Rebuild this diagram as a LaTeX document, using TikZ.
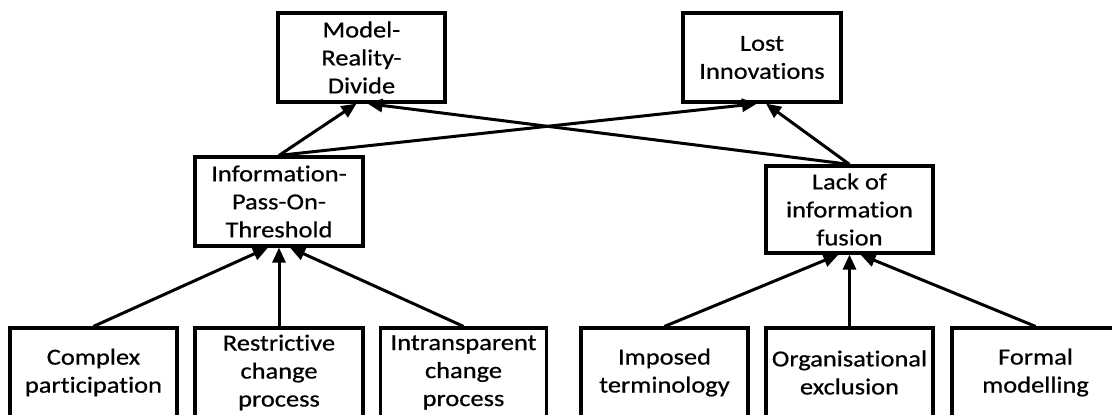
\documentclass[tikz,border=0pt]{standalone}
\usepackage{fontspec}
\setmainfont{Carlito}[FakeStretch=1.15, FakeBold=0.6, Ligatures=NoCommon]
\usetikzlibrary{arrows.meta,calc}
\tikzset{
  box/.style={draw=black, line width=3.2pt, rectangle, inner sep=0pt,
    minimum height=89pt, align=center, text=black,
    font=\fontsize{23}{28}\selectfont},
  conn/.style={line width=3pt, -{Triangle[length=15pt,width=13pt]}}
}
\begin{document}
\begin{tikzpicture}[x=1pt,y=-1pt]
\clip (0,0) rectangle (1112,415);
\useasboundingbox (0,0) rectangle (1112,415);
% top row
\node[box, minimum width=167pt] (mrd) at (361.5,57.5) {Model-\\Reality-\\Divide};
\node[box, minimum width=158pt] (li) at (762,57.5) {Lost\\Innovations};
% middle row
\node[box, minimum width=168pt] (ipot) at (279,201.5) {Information-\\Pass-On-\\Threshold};
\node[box, minimum width=167pt, minimum height=87pt] (lif) at (849.5,209.5) {Lack of\\information\\fusion};
% bottom row
\node[box, minimum width=167pt] (cp) at (93.5,372.5) {Complex\\participation};
\node[box, minimum width=168pt] (rcp) at (279,372.5) {Restrictive\\change\\process};
\node[box, minimum width=166pt] (icp) at (463.5,372.5) {Intransparent\\change\\process};
\node[box, minimum width=167pt] (it) at (664.5,372.5) {Imposed\\terminology};
\node[box, minimum width=167pt] (oe) at (849.5,372.5) {Organisational\\exclusion};
\node[box, minimum width=167pt] (fm) at (1035.5,372.5) {Formal\\modelling};
% connectors to top row
\draw[conn] (ipot.north) -- ($(mrd.south)+(-5,0)$);
\draw[conn] (lif.north) -- ($(mrd.south)+(6,0)$);
\draw[conn] (ipot.north) -- ($(li.south)+(-5,0)$);
\draw[conn] (lif.north) -- ($(li.south)+(4,0)$);
% connectors to middle row
\draw[conn] (cp.north) -- ($(ipot.south)+(-11,0)$);
\draw[conn] (rcp.north) -- (ipot.south);
\draw[conn] (icp.north) -- ($(ipot.south)+(11,0)$);
\draw[conn] (it.north) -- ($(lif.south)+(-11,0)$);
\draw[conn] (oe.north) -- (lif.south);
\draw[conn] (fm.north) -- ($(lif.south)+(11,0)$);
\end{tikzpicture}
\end{document}
